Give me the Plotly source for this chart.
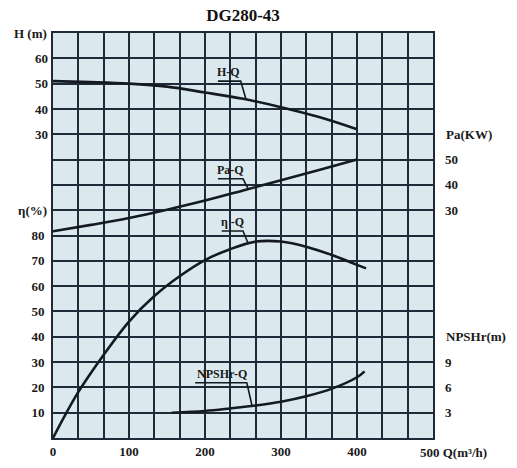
import numpy as np
import plotly.graph_objects as go

# ---- data ----
q_h = [0, 50, 100, 150, 200, 250, 300, 350, 400]
h_vals = [51, 50.6, 50, 48.8, 46.5, 44, 40.7, 36.8, 32]

q_pa = [0, 50, 100, 150, 200, 250, 300, 350, 400]
pa_vals = [21.7, 24.2, 26.9, 30.2, 33.8, 37.8, 41.8, 45.9, 50]

q_eta = [0, 33, 67, 100, 133, 167, 200, 233, 267, 300, 333, 367, 400, 412]
eta_vals = [0, 18, 33, 46, 56, 64, 70.3, 74.6, 77.6, 77.6, 75.6, 72.3, 68.4, 67]

q_npsh = [156, 200, 233, 267, 300, 333, 367, 400, 410]
npsh_vals = [3.0, 3.2, 3.5, 3.85, 4.3, 4.95, 5.85, 7.2, 7.9]

x_ticks = [0, 100, 200, 300, 400, 500]
x_ticktext = ["0", "100", "200", "300", "400", ""]
eta_ticks = [10, 20, 30, 40, 50, 60, 70, 80]
h_ticks = [30, 40, 50, 60]
pa_ticks = [30, 40, 50]
npsh_ticks = [3, 6, 9]

title = "DG280-43"

# ---- style ----
GRID = "#1f2b38"
BG = "#dbe9ee"
CURVE = "#141a22"
FONT = "Liberation Serif"
tickfont = dict(family=FONT, size=13, color="#1a1a1a", weight="bold")

# axis ranges chosen so that all four scales share the same 16-row grid
ETA_RANGE = [0, 160]
H_RANGE = [-90, 70]
PA_RANGE = [-60, 100]
NPSH_RANGE = [0, 48]

fig = go.Figure()
line = dict(color=CURVE, width=2.6, shape="spline", smoothing=1.0)
fig.add_trace(go.Scatter(x=q_h, y=h_vals, yaxis="y2", mode="lines", line=line, name="H-Q"))
fig.add_trace(go.Scatter(x=q_pa, y=pa_vals, yaxis="y3", mode="lines", line=line, name="Pa-Q"))
fig.add_trace(go.Scatter(x=q_eta, y=eta_vals, yaxis="y", mode="lines", line=line, name="η-Q"))
fig.add_trace(go.Scatter(x=q_npsh, y=npsh_vals, yaxis="y4", mode="lines", line=line, name="NPSHr-Q"))


def to_eta(v, rng):
    return ETA_RANGE[0] + (v - rng[0]) / (rng[1] - rng[0]) * (ETA_RANGE[1] - ETA_RANGE[0])


# labels with underline + leader lines (in primary axis coordinates)
labels = [
    ("H-Q", 231, 144.6, 217, 247, 254, q_h, h_vals, H_RANGE),
    ("Pa-Q", 233, 106.0, 217, 250, 257, q_pa, pa_vals, PA_RANGE),
    ("η -Q", 236, 85.4, 222, 250, 257, q_eta, eta_vals, ETA_RANGE),
    ("NPSHr-Q", 222, 25.4, 187, 255, 262, q_npsh, npsh_vals, NPSH_RANGE),
]
annotations = []
shapes = []
for text, tx, ty, ux0, ux1, qend, qs, vs, rng in labels:
    annotations.append(dict(x=tx, y=ty, xref="x", yref="y", text=text, showarrow=False,
                            font=dict(family=FONT, size=12, color="#1a1a1a", weight="bold")))
    uy = ty - 3.6
    yend = to_eta(float(np.interp(qend, qs, vs)), rng)
    shapes.append(dict(type="path", xref="x", yref="y",
                       path=f"M {ux0},{uy} L {ux1},{uy} L {qend},{yend}",
                       line=dict(color=CURVE, width=1.6)))

# axis titles as annotations
annotations += [
    dict(x=0, y=160, xref="x", yref="y", text="H (m)", showarrow=False, xanchor="right",
         xshift=-4, font=tickfont),
    dict(x=0, y=90, xref="x", yref="y", text="η(%)", showarrow=False, xanchor="right",
         xshift=-4, font=tickfont),
    dict(x=500, y=to_eta(60, PA_RANGE), xref="x", yref="y", text="Pa(KW)", showarrow=False,
         xanchor="left", xshift=11, font=tickfont),
    dict(x=500, y=to_eta(12, NPSH_RANGE), xref="x", yref="y", text="NPSHr(m)", showarrow=False,
         xanchor="left", xshift=11, font=tickfont),
    dict(x=500, y=0, xref="x", yref="paper", text="500 Q(m³/h)", showarrow=False,
         xanchor="left", yanchor="middle", xshift=-15, yshift=-14, font=tickfont),
]

fig.update_layout(
    width=517, height=468,
    margin=dict(l=53, r=84, t=33, b=30, autoexpand=False),
    paper_bgcolor="white", plot_bgcolor=BG,
    showlegend=False,
    title=dict(text=title, x=0.47, xanchor="center", y=1 - 15 / 468, yanchor="middle",
               font=dict(family=FONT, size=17, color="#111", weight="bold")),
    annotations=annotations,
    shapes=shapes,
    xaxis=dict(range=[0, 500], tickvals=x_ticks, ticktext=x_ticktext,
               showgrid=True, gridcolor=GRID, gridwidth=2,
               minor=dict(dtick=100 / 3, tick0=0, showgrid=True, gridcolor=GRID, gridwidth=2),
               showline=True, linecolor=GRID, linewidth=2, mirror=True,
               ticks="", tickfont=tickfont, ticklabelstandoff=0, zeroline=False,
               automargin=False, fixedrange=True),
    yaxis=dict(range=ETA_RANGE, tickvals=eta_ticks, ticktext=[str(v) for v in eta_ticks],
               showgrid=True, gridcolor=GRID, gridwidth=2,
               minor=dict(dtick=10, tick0=0, showgrid=True, gridcolor=GRID, gridwidth=2),
               showline=True, linecolor=GRID, linewidth=2, mirror=True,
               ticks="", tickfont=tickfont, ticklabelstandoff=4, zeroline=False,
               automargin=False),
    yaxis2=dict(range=H_RANGE, overlaying="y", side="left", anchor="x",
                tickvals=h_ticks, ticktext=[str(v) for v in h_ticks],
                showgrid=False, zeroline=False, showline=False, ticks="",
                tickfont=tickfont, ticklabelstandoff=4, automargin=False),
    yaxis3=dict(range=PA_RANGE, overlaying="y", side="right", anchor="x",
                tickvals=pa_ticks, ticktext=[str(v) for v in pa_ticks],
                showgrid=False, zeroline=False, showline=False, ticks="",
                tickfont=tickfont, ticklabelstandoff=11, automargin=False),
    yaxis4=dict(range=NPSH_RANGE, overlaying="y", side="right", anchor="x",
                tickvals=npsh_ticks, ticktext=[str(v) for v in npsh_ticks],
                showgrid=False, zeroline=False, showline=False, ticks="",
                tickfont=tickfont, ticklabelstandoff=11, automargin=False),
)

fig.write_html("out.html")
